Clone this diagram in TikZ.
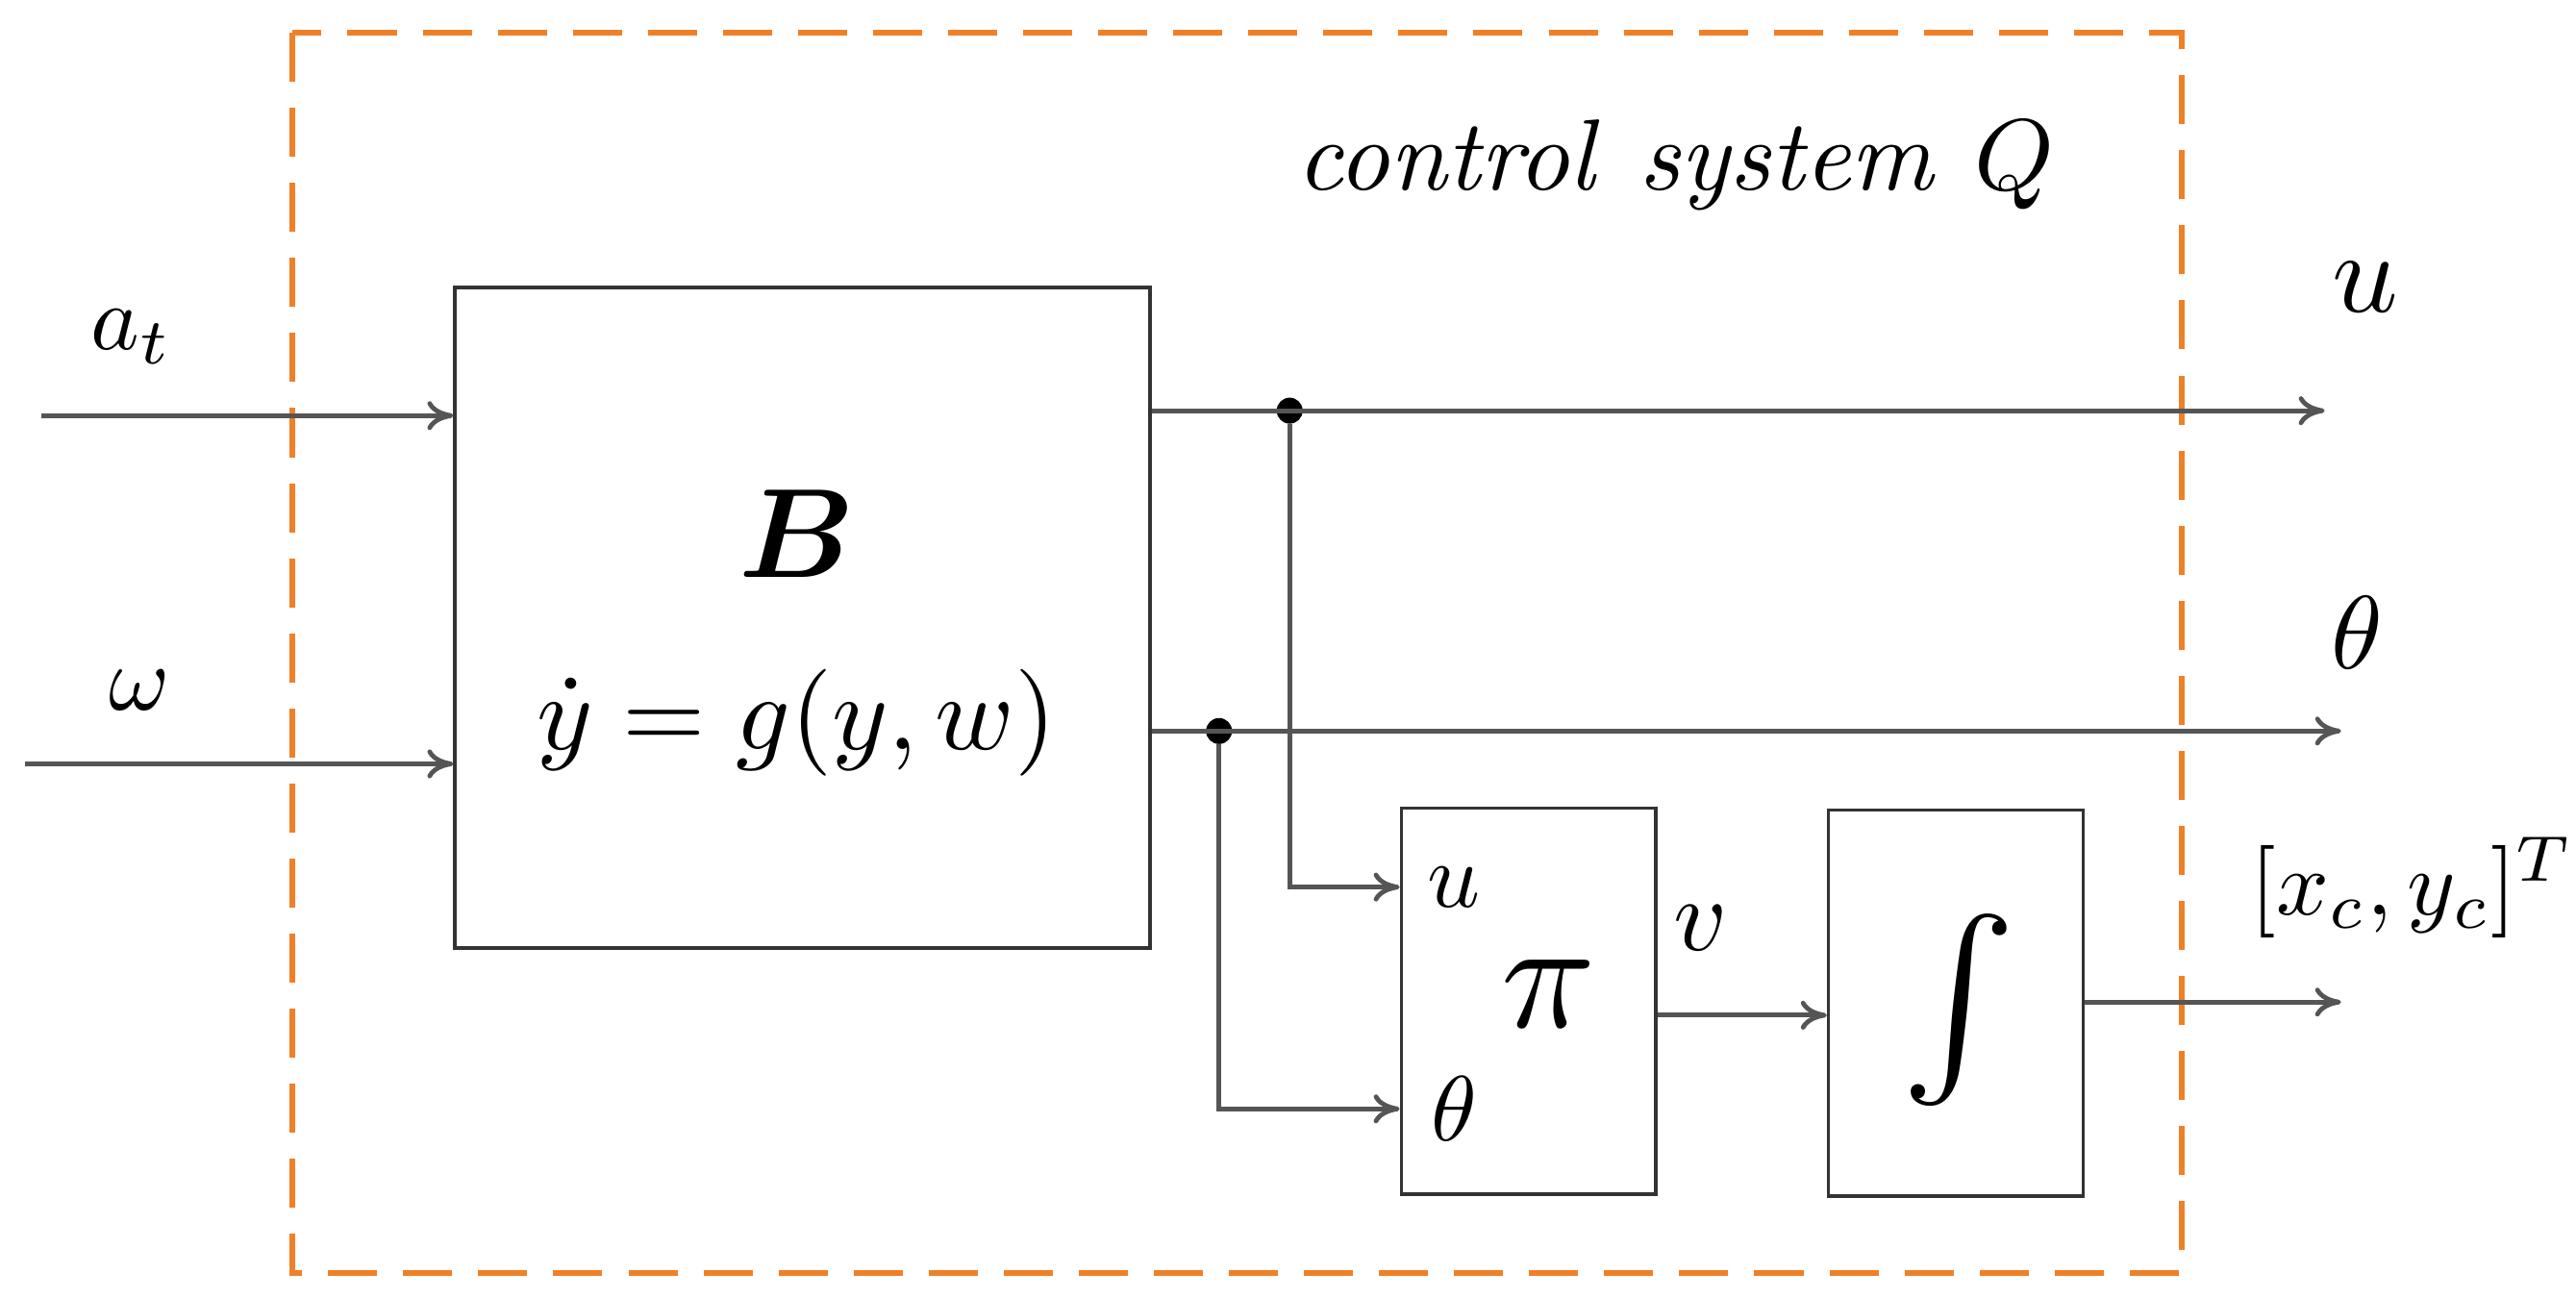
\documentclass[tikz,border=0pt]{standalone}
\usepackage{amsmath,bm}
\usetikzlibrary{arrows.meta}
\definecolor{wire}{RGB}{85,85,85}
\definecolor{frame}{RGB}{240,128,40}
\tikzset{
  blk/.style={draw=black!80,line width=1.2pt,inner sep=0pt},
  sig/.style={draw=wire,line width=1.6pt,-{To[length=9pt,width=10pt]}},
  jn/.style={circle,fill=black,inner sep=0pt,minimum size=9pt},
  lbl/.style={scale=3.2}
}
\begin{document}
\begin{tikzpicture}
        \useasboundingbox (0,0) rectangle (31.36,-15.8);
        \draw[frame,line width=2.2pt,dash pattern=on 17pt off 9pt] (3.56,-0.4) rectangle (26.56,-15.5);
        \node[scale=3.5] (title) at (20.4,-2.0) {$\mathit{control\ system}\ Q$};

        \node[blk,minimum width=8.46cm,minimum height=8.04cm] (B) at (9.77,-7.52) {};
        \node[scale=4.4] (Bname) at (9.7,-6.5) {$\bm{B}$};
        \node[scale=3.7] (Beq) at (9.7,-8.8) {$\dot y = g(y,w)$};
        \node[blk,minimum width=3.1cm,minimum height=4.7cm] (pi) at (18.61,-12.19) {};
        \node[scale=5.4] (pisym) at (18.85,-12.1) {$\pi$};
        \node[lbl] (pu) at (17.7,-10.8) {$u$};
        \node[lbl] (pt) at (17.7,-13.5) {$\theta$};
        \node[blk,minimum width=3.1cm,minimum height=4.7cm] (int) at (23.81,-12.21) {};
        \node[scale=6] (intsym) at (23.85,-12.3) {$\int$};

        % inputs
        \coordinate (ain) at (0.5,-5.06);
        \coordinate (win) at (0.3,-9.3);
        \node[lbl] (at) at (1.6,-4.1) {$a_t$};
        \node[lbl] (w) at (1.7,-8.4) {$\omega$};
        \draw[sig] (ain) -- (ain -| B.west);
        \draw[sig] (win) -- (win -| B.west);

        % outputs
        \coordinate (uo) at (28.3,-5.0);
        \coordinate (to) at (28.5,-8.9);
        \coordinate (xo) at (28.5,-12.2);
        \node[jn] (ju) at (15.7,-5.0) {};
        \node[jn] (jt) at (14.84,-8.9) {};
        \node[scale=4] (u) at (28.8,-3.5) {$u$};
        \node[scale=3.6] (th) at (28.7,-7.7) {$\theta$};
        \node[lbl,anchor=west] (xy) at (27.0,-10.8) {$[x_c,y_c]^T$};
        \draw[sig] (uo -| B.east) -- (uo);
        \draw[sig] (to -| B.east) -- (to);
        \draw[sig] (ju) |- (pi.west |- pu);
        \draw[sig] (jt) |- (pi.west |- pt);
        \draw[sig] (pi.east |- 0,-12.36) -- (int.west |- 0,-12.36);
        \node[scale=3.6] (v) at (20.7,-11.3) {$v$};
        \draw[sig] (int.east |- xo) -- (xo);
\end{tikzpicture}
\end{document}
